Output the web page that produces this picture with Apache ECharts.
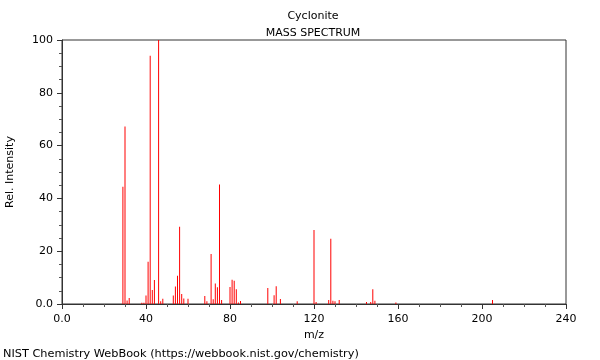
<!DOCTYPE html>
<html><head><meta charset="utf-8">
<script src="https://cdn.jsdelivr.net/npm/echarts@6/dist/echarts.min.js"></script>
<style>html,body{margin:0;padding:0;background:#fff}#c{width:600px;height:360px}</style>
</head><body><div id="c"></div>
<script>
var mz = [29,30,31,32,38,39,40,41,42,43,44,46,47,48,53,54,55,56,57,58,60,68,69,71,72,73,74,75,76,80,81,82,83,84,85,98,101,102,104,112,120,121,127,128,129,130,132,145,147,148,149,159,205];
var intensity = [44.4,67.2,1.3,2.3,0.5,0.5,3.2,16,94,5.3,9.1,100,1,2,3.2,6.6,10.7,29.3,3.8,2.1,2,3,1,18.9,1.8,7.8,6.3,45.3,1.5,6.4,9.2,8.8,5.6,0.6,1.1,6.1,3.3,6.7,1.9,1,28,0.8,1.5,24.7,1.2,1,1.5,0.8,0.8,5.6,1.2,0.6,1.5];
var xTicks = [0,40,80,120,160,200,240];
var yTicks = [0,20,40,60,80,100];
var titleText = 'Cyclonite';
var subText = 'MASS SPECTRUM';
var footer = 'NIST Chemistry WebBook (https://webbook.nist.gov/chemistry)';

var F = 'DejaVu Sans';
var data = mz.map(function(m,i){return [m,intensity[i]];});
var chart = echarts.init(document.getElementById('c'));
chart.setOption({
  animation:false,
  textStyle:{fontFamily:F},
  title:[
    {text:titleText,left:308,top:6,textAlign:'center',textStyle:{fontFamily:F,fontSize:11,fontWeight:'normal',color:'#000'}},
    {text:subText,left:308,top:23,textAlign:'center',textStyle:{fontFamily:F,fontSize:11,fontWeight:'normal',color:'#000'}},
    {text:footer,left:-2,top:344,textStyle:{fontFamily:F,fontSize:11.3,fontWeight:'normal',color:'#000'}}
  ],
  grid:{left:62,right:34,top:40,bottom:56,outerBoundsMode:'none',containLabel:false,show:true,borderColor:'#333',borderWidth:1,backgroundColor:'transparent'},
  xAxis:{type:'value',min:xTicks[0],max:xTicks[xTicks.length-1],interval:40,
    name:'m/z',nameLocation:'middle',nameGap:24,nameTextStyle:{fontFamily:F,fontSize:11,color:'#000'},
    axisLine:{show:true,onZero:false,lineStyle:{color:'#333'}},
    axisTick:{show:true,length:5,lineStyle:{color:'#333'}},
    minorTick:{show:true,splitNumber:4,length:3,lineStyle:{color:'#555'}},
    splitLine:{show:false},
    axisLabel:{fontFamily:F,fontSize:11,color:'#000',margin:10,formatter:function(v){return v===0?'0.0':String(v);}}
  },
  yAxis:{type:'value',min:yTicks[0],max:yTicks[yTicks.length-1],interval:20,
    name:'Rel. Intensity',nameLocation:'middle',nameGap:46,nameTextStyle:{fontFamily:F,fontSize:11,color:'#000'},
    axisLine:{show:true,lineStyle:{color:'#333'}},
    axisTick:{show:true,length:5,lineStyle:{color:'#333'}},
    minorTick:{show:true,splitNumber:4,length:3,lineStyle:{color:'#555'}},
    splitLine:{show:false},
    axisLabel:{fontFamily:F,fontSize:11,color:'#000',margin:9,formatter:function(v){return v===0?'0.0':String(v);}}
  },
  series:[{type:'bar',data:data,barWidth:1,itemStyle:{color:'#ff0000'},silent:true}]
});
</script></body></html>
